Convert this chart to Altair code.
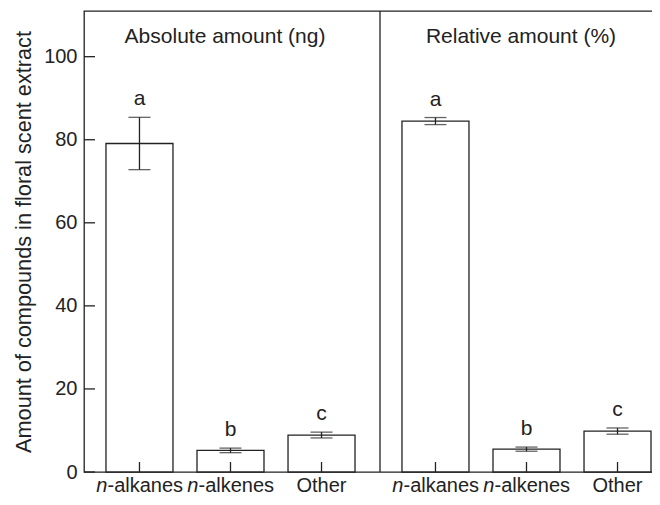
import altair as alt
import pandas as pd

categories = ["n-alkanes", "n-alkenes", "Other"]
italic_part = ["n", "n", ""]
rest_part = ["-alkanes", "-alkenes", "Other"]
letters = ["a", "b", "c"]

panels = ["abs", "rel"]
panel_titles = ["Absolute amount (ng)", "Relative amount (%)"]

abs_mean = [79.1, 5.2, 8.9]
abs_err = [6.3, 0.55, 0.7]
rel_mean = [84.5, 5.5, 9.85]
rel_err = [0.85, 0.5, 0.75]

y_ticks = [0, 20, 40, 60, 80, 100]
y_title = "Amount of compounds in floral scent extract"

FONT = "Liberation Sans"
INK = "#222222"
W = 592
H = 461
FS = 21
LFS = 20

rows = []
for p, means, errs in [("abs", abs_mean, abs_err), ("rel", rel_mean, rel_err)]:
    for c, m, e, l, it, r in zip(categories, means, errs, letters, italic_part, rest_part):
        rows.append({"panel": p, "cat": c, "mean": m, "lo": m - e, "hi": m + e,
                     "letter": l, "ital": it, "rest": r})
df = pd.DataFrame(rows)

xs = alt.Scale(domain=panels, paddingInner=0, paddingOuter=0)
X = alt.X("panel:N", scale=xs, axis=None)
XO = alt.XOffset("cat:N", sort=categories,
                 scale=alt.Scale(paddingInner=0.264, paddingOuter=0.258, align=0.468))
ys = alt.Scale(domain=[0, 111], nice=False)
yax = alt.Axis(values=y_ticks, ticks=False, tickSize=0, domain=False, grid=False,
               labelFontSize=LFS, labelFont=FONT, labelColor=INK, labelPadding=7,
               title=y_title, titleFontSize=21.7, titleFont=FONT, titleColor=INK,
               titleFontWeight="normal", titlePadding=8)


def Y(field):
    return alt.Y(field, scale=ys, axis=yax)


base = alt.Chart(df)
bars = base.mark_bar(fill="white", stroke=INK, strokeWidth=1.3).encode(
    x=X, xOffset=XO, y=Y("mean:Q"))
err = base.mark_rule(color=INK, strokeWidth=1.3).encode(
    x=X, xOffset=XO, y=Y("lo:Q"), y2="hi:Q")
cap_lo = base.mark_tick(color=INK, size=22, thickness=1.3).encode(
    x=X, xOffset=XO, y=Y("lo:Q"))
cap_hi = base.mark_tick(color=INK, size=22, thickness=1.3).encode(
    x=X, xOffset=XO, y=Y("hi:Q"))
xticks = base.mark_rule(color=INK, strokeWidth=1.3).encode(
    x=X, xOffset=XO, y=alt.value(H), y2=alt.value(H - 10))
letter_txt = base.mark_text(font=FONT, fontSize=FS, color=INK, baseline="alphabetic", dy=-12).encode(
    x=X, xOffset=XO, y=Y("hi:Q"), text="letter:N")
ital = base.transform_filter("datum.ital != ''").mark_text(
    font=FONT, fontSize=LFS, color=INK, fontStyle="italic", align="right", dx=-32,
    baseline="alphabetic").encode(x=X, xOffset=XO, y=alt.value(H + 20), text="ital:N")
rest_n = base.transform_filter("datum.ital != ''").mark_text(
    font=FONT, fontSize=LFS, color=INK, align="left", dx=-32,
    baseline="alphabetic").encode(x=X, xOffset=XO, y=alt.value(H + 20), text="rest:N")
rest_o = base.transform_filter("datum.ital == ''").mark_text(
    font=FONT, fontSize=LFS, color=INK, align="center",
    baseline="alphabetic").encode(x=X, xOffset=XO, y=alt.value(H + 20), text="rest:N")

yt = alt.Chart(pd.DataFrame({"v": y_ticks})).mark_rule(color=INK, strokeWidth=1.3).encode(
    y=Y("v:Q"), x=alt.value(0), x2=alt.value(11))

divider = alt.Chart(pd.DataFrame({"panel": ["rel"]})).mark_rule(color=INK, strokeWidth=1.3).encode(
    x=alt.X("panel:N", scale=xs, axis=None, bandPosition=0), y=alt.value(0), y2=alt.value(H))

ttl = alt.Chart(pd.DataFrame({"panel": panels, "t": panel_titles})).mark_text(
    font=FONT, fontSize=FS, color=INK, align="center", baseline="alphabetic", dx=-7).encode(
    x=X, text="t:N", y=alt.value(32))

chart = alt.layer(bars, err, cap_lo, cap_hi, xticks, yt, divider, letter_txt,
                  ital, rest_n, rest_o, ttl).properties(
    width=W, height=H,
    autosize=alt.AutoSizeParams(type="none"),
    padding={"left": 76, "top": 3, "right": -24, "bottom": 25},
).configure_view(stroke=INK, strokeWidth=1.3)

chart.save("out.html", embed_options={"renderer": "svg", "actions": False})
